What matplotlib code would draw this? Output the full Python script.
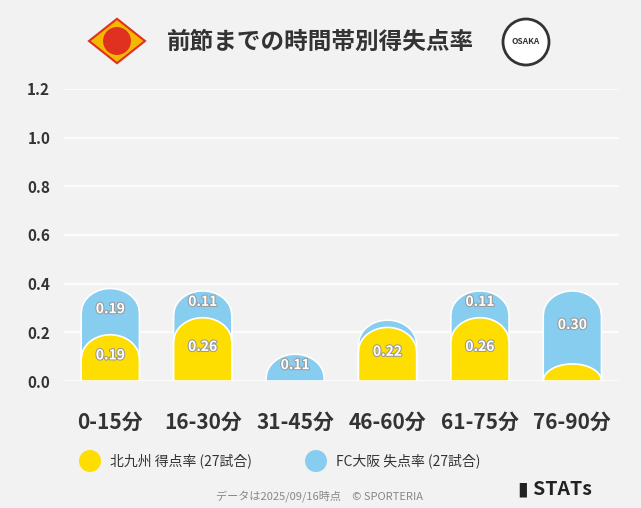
import matplotlib
matplotlib.use("Agg")
import matplotlib.pyplot as plt
import numpy as np
from matplotlib.patches import Polygon, Ellipse, RegularPolygon
import matplotlib.patheffects as pe

plt.rcParams['font.family'] = ['Noto Sans CJK JP', 'DejaVu Sans']

categories = ["0-15分", "16-30分", "31-45分", "46-60分", "61-75分", "76-90分"]
scored = [0.19, 0.26, 0.0, 0.22, 0.26, 0.07]
conceded = [0.19, 0.11, 0.11, 0.03, 0.11, 0.30]
scored_labels = ["0.19", "0.26", "", "0.22", "0.26", ""]
conceded_labels = ["0.19", "0.11", "0.11", "", "0.11", "0.30"]

YEL = "#fede00"
BLU = "#86cdf0"
BG = "#f2f2f2"
W, H = 641, 508

fig = plt.figure(figsize=(6.41, 5.08), dpi=100, facecolor=BG)
ax = fig.add_axes([0.1, 0.25, 0.865, 0.575], facecolor=BG)
ax.set_xlim(-0.5, 5.5)
ax.set_ylim(0, 1.2)
ax.set_yticks(np.arange(0, 1.21, 0.2))
ax.set_yticklabels([f"{v:.1f}" for v in np.arange(0, 1.21, 0.2)], fontsize=11, fontweight='bold', color='#333333')
ax.set_xticks(range(6))
ax.set_xticklabels(categories, fontsize=15, fontweight='bold', color='#333333')
ax.tick_params(length=0, pad=10)
ax.tick_params(axis='x', pad=22)
for s in ax.spines.values():
    s.set_visible(False)
ax.grid(axis='y', color='white', lw=1.2)
ax.set_axisbelow(True)

w = 0.63
CAP = 0.1

def dome(x, top, color):
    h = min(CAP, top)
    t = np.linspace(-1, 1, 80)
    xs = x + t * w / 2
    ys = top - h + h * np.sqrt(1 - t ** 2)
    pts = [(x - w / 2, 0)] + list(zip(xs, ys)) + [(x + w / 2, 0)]
    ax.add_patch(Polygon(pts, closed=True, fc=color, ec='white', lw=1.2, zorder=3))

lab_fx = [pe.withStroke(linewidth=1.5, foreground='#999999')]
for i in range(6):
    s, c = scored[i], conceded[i]
    dome(i, s + c, BLU)
    if s > 0:
        dome(i, s, YEL)
    if conceded_labels[i]:
        ax.text(i, s + c / 2 + 0.01, conceded_labels[i], ha='center', va='center', color='white',
                fontsize=10, fontweight='bold', path_effects=lab_fx, zorder=5)
    if scored_labels[i]:
        ax.text(i, s / 2 + 0.01, scored_labels[i], ha='center', va='center', color='white',
                fontsize=10, fontweight='bold', path_effects=lab_fx, zorder=5)

fig.text(0.5, 0.918, "前節までの時間帯別得失点率", ha='center', va='center', fontsize=17,
         fontweight='bold', color='#333333')

def circ(cx, cy, r, **kw):
    fig.patches.append(Ellipse((cx / W, 1 - cy / H), 2 * r / W, 2 * r / H, transform=fig.transFigure, **kw))

# logos (approximate)
fig.patches.append(RegularPolygon((117 / W, 1 - 41 / H), 4, radius=28 / W, transform=fig.transFigure,
                                  fc='#f5b800', ec='#e03020', lw=1.5))
circ(117, 41, 15, fc='#e03020', ec='#f5b800', lw=1.5)
circ(526, 42, 23, fc='white', ec='#333333', lw=2)
fig.text(526 / W, 1 - 42 / H, "OSAKA", ha='center', va='center', fontsize=6, fontweight='bold', color='#333333')

# legend
circ(90, 461, 11, fc=YEL)
fig.text(110 / W, 1 - 461 / H, "北九州 得点率 (27試合)", va='center', fontsize=10, color='#333333')
circ(316, 461, 11, fc=BLU)
fig.text(336 / W, 1 - 461 / H, "FC大阪 失点率 (27試合)", va='center', fontsize=10, color='#333333')

fig.text(320 / W, 1 - 496 / H, "データは2025/09/16時点　© SPORTERIA", ha='center', va='center', fontsize=8, color='#888888')
fig.text(518 / W, 1 - 489 / H, "▮ STATs", ha='left', va='center', fontsize=14, fontweight='bold', color='#222222')

fig.savefig("out.png", dpi=100, facecolor=BG)
